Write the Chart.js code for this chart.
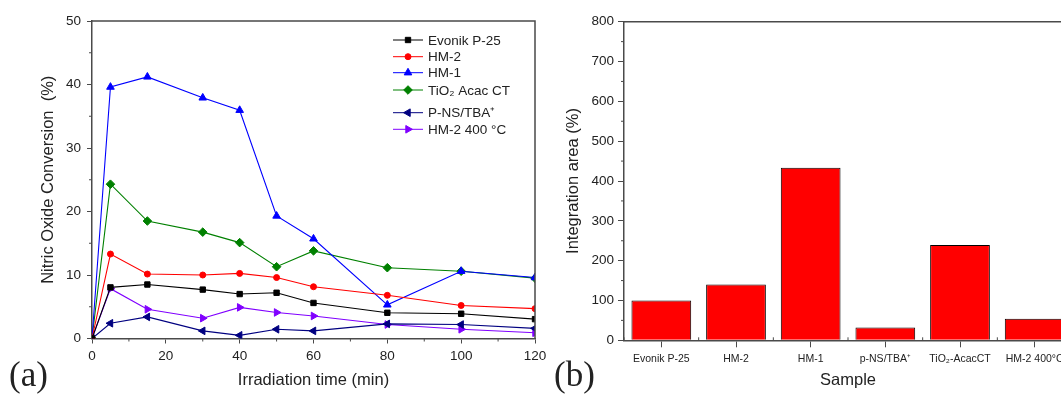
<!DOCTYPE html>
<html lang="en">
<head>
  <meta charset="UTF-8">
  <title>Nitric oxide conversion and integration area</title>
  <script src="https://cdn.jsdelivr.net/npm/chart.js"></script>
  <style>
    html, body {
      margin: 0;
      padding: 0;
      background: #fff;
      width: 1061px;
      height: 394px;
      overflow: hidden;
      position: relative;
    }
    .panel {
      position: absolute;
      top: 0;
      height: 394px;
    }
    #left { left: 0; width: 560px; }
    #right { left: 540px; width: 545px; }
    .tag {
      position: absolute;
      font-family: "Liberation Serif", "Times New Roman", serif;
      font-size: 35px;
      line-height: 1;
      color: #222;
    }
  </style>
</head>
<body>

  <div class="panel" id="left"><canvas id="noChart"></canvas></div>
  <div class="panel" id="right"><canvas id="areaChart"></canvas></div>
  <div class="tag" style="left:9px; top:357px;">(a)</div>
  <div class="tag" style="left:554px; top:357px;">(b)</div>

  <script>
    // NO conversion vs irradiation time
    const times = [0, 5, 15, 30, 40, 50, 60, 80, 100, 120];
    const evonikP25 = [0, 8.05, 8.5, 7.7, 7.0, 7.2, 5.6, 4.05, 3.9, 3.05];
    const hm2 = [0, 13.3, 10.15, 10.0, 10.25, 9.6, 8.15, 6.8, 5.2, 4.7];
    const hm1 = [0, 39.6, 41.2, 37.9, 35.95, 19.3, 15.7, 5.3, 10.6, 9.6];
    const tio2AcacCT = [0, 24.3, 18.5, 16.75, 15.1, 11.3, 13.8, 11.15, 10.6, 9.5];
    const pnsTba = [0, 2.4, 3.4, 1.2, 0.5, 1.45, 1.2, 2.3, 2.2, 1.6];
    const hm2At400C = [0, 7.85, 4.6, 3.2, 4.9, 4.1, 3.55, 2.2, 1.45, 0.9];
    const seriesNames = ['Evonik P-25', 'HM-2', 'HM-1', 'TiO\u2082 Acac CT', 'P-NS/TBA\u207A', 'HM-2 400 \u00B0C'];

    // integration area per sample
    const samples = ['Evonik P-25', 'HM-2', 'HM-1', 'p-NS/TBA\u207A', 'TiO\u2082-AcacCT', 'HM-2 400\u00B0C'];
    const integrationArea = [100, 140, 433, 32, 239, 54];

    const FONT = '"Liberation Sans", Arial, sans-serif';
    const TEXT = '#222';
    const AXIS = '#4a4a4a';

    // box around the plot area (top and right edges)
    const framePlugin = {
      id: 'frame',
      afterDraw(chart) {
        const a = chart.chartArea;
        const ctx = chart.ctx;
        ctx.save();
        ctx.strokeStyle = AXIS;
        ctx.lineWidth = 1.5;
        ctx.beginPath();
        ctx.moveTo(a.left, a.top);
        ctx.lineTo(a.right, a.top);
        ctx.lineTo(a.right, a.bottom);
        ctx.stroke();
        ctx.restore();
      }
    };

    // short ticks between the labelled ones
    const minorTicksPlugin = {
      id: 'minorTicks',
      afterDraw(chart, args, opts) {
        const ctx = chart.ctx;
        const a = chart.chartArea;
        ctx.save();
        ctx.strokeStyle = AXIS;
        ctx.lineWidth = 1;
        ctx.beginPath();
        Object.keys(opts.scales || {}).forEach(id => {
          const s = chart.scales[id];
          const o = opts.scales[id];
          const pixels = [];
          if (s.type === 'category') {
            for (let i = 0; i <= s.ticks.length; i++) pixels.push(s.getPixelForValue(i - 0.5));
          } else {
            for (let v = s.min + o.step; v < s.max; v += 2 * o.step) pixels.push(s.getPixelForValue(v));
          }
          pixels.forEach(p => {
            if (s.isHorizontal()) {
              ctx.moveTo(p, a.bottom);
              ctx.lineTo(p, a.bottom + o.len);
            } else {
              ctx.moveTo(a.left, p);
              ctx.lineTo(a.left - o.len, p);
            }
          });
        });
        ctx.stroke();
        ctx.restore();
      }
    };

    // legend drawn inside the plot: line + marker + name
    const seriesKeyPlugin = {
      id: 'seriesKey',
      afterDraw(chart, args, opts) {
        const ctx = chart.ctx;
        ctx.save();
        ctx.font = opts.font;
        ctx.textBaseline = 'middle';
        chart.data.datasets.forEach((ds, i) => {
          const y = opts.rows[i];
          ctx.strokeStyle = ds.borderColor;
          ctx.lineWidth = 1;
          ctx.beginPath();
          ctx.moveTo(opts.x, y);
          ctx.lineTo(opts.x + opts.lineLength, y);
          ctx.stroke();
          ctx.fillStyle = ds.pointBackgroundColor;
          ctx.strokeStyle = ds.pointBackgroundColor;
          Chart.helpers.drawPoint(ctx, {
            pointStyle: ds.pointStyle,
            rotation: ds.pointRotation || 0,
            radius: ds.pointRadius,
            borderWidth: 1
          }, opts.x + opts.lineLength / 2, y);
          ctx.fillStyle = TEXT;
          ctx.fillText(ds.label, opts.x + opts.lineLength + 5, y + 1);
        });
        ctx.restore();
      }
    };

    function series(label, values, color, style, radius, rotation) {
      return {
        label: label,
        data: values.map((v, i) => ({ x: times[i], y: v })),
        borderColor: color,
        backgroundColor: color,
        pointBackgroundColor: color,
        pointBorderColor: color,
        borderWidth: 1.1,
        pointStyle: style,
        pointRadius: radius,
        pointRotation: rotation || 0,
        pointBorderWidth: 1,
        tension: 0,
        clip: 0
      };
    }

    new Chart(document.getElementById('noChart'), {
      type: 'line',
      data: {
        datasets: [
          series(seriesNames[0], evonikP25, '#000000', 'rect', 3.8),
          series(seriesNames[1], hm2, '#ff0000', 'circle', 3),
          series(seriesNames[2], hm1, '#0000ff', 'triangle', 4.4),
          series(seriesNames[3], tio2AcacCT, '#008000', 'rectRot', 4.3),
          series(seriesNames[4], pnsTba, '#000080', 'triangle', 4.4, -90),
          series(seriesNames[5], hm2At400C, '#8000ff', 'triangle', 4.4, 90)
        ]
      },
      options: {
        responsive: true,
        maintainAspectRatio: false,
        animation: false,
        events: [],
        layout: { padding: { left: 35, top: 21, right: 25, bottom: 0 } },
        plugins: {
          legend: { display: false },
          tooltip: { enabled: false },
          minorTicks: { scales: { x: { step: 10, len: 3 }, y: { step: 5, len: 3 } } },
          seriesKey: {
            x: 393,
            lineLength: 30,
            rows: [40, 56.7, 72.7, 90, 112.7, 129.3],
            font: '13.5px ' + FONT
          }
        },
        scales: {
          x: {
            type: 'linear',
            min: 0,
            max: 120,
            afterFit: s => { s.height = 55.5; },
            border: { color: AXIS, width: 1.5 },
            grid: { drawOnChartArea: false, tickLength: 5, tickColor: AXIS },
            ticks: { stepSize: 20, padding: 5, color: TEXT, font: { family: FONT, size: 13.5 } },
            title: { display: true, text: 'Irradiation time (min)', color: TEXT, font: { family: FONT, size: 16.5 } }
          },
          y: {
            min: 0,
            max: 50,
            afterFit: s => { s.width = 57; },
            border: { color: AXIS, width: 1.5 },
            grid: { drawOnChartArea: false, tickLength: 5, tickColor: AXIS },
            ticks: { stepSize: 10, padding: 6, color: TEXT, font: { family: FONT, size: 13.5 } },
            title: { display: true, text: 'Nitric Oxide Conversion  (%)', color: TEXT, font: { family: FONT, size: 16.5 } }
          }
        }
      },
      plugins: [framePlugin, minorTicksPlugin, seriesKeyPlugin]
    });

    new Chart(document.getElementById('areaChart'), {
      type: 'bar',
      data: {
        labels: samples,
        datasets: [{
          data: integrationArea,
          backgroundColor: '#ff0000',
          borderColor: '#000000',
          borderWidth: 1,
          barPercentage: 0.8,
          categoryPercentage: 1
        }]
      },
      options: {
        responsive: true,
        maintainAspectRatio: false,
        animation: false,
        events: [],
        layout: { padding: { left: 19.4, top: 21.7, right: 13, bottom: 0 } },
        plugins: {
          legend: { display: false },
          tooltip: { enabled: false },
          minorTicks: { scales: { x: { len: -3 }, y: { step: 50, len: 3 } } }
        },
        scales: {
          x: {
            afterFit: s => { s.height = 53.7; },
            border: { color: AXIS, width: 1.5 },
            grid: { drawOnChartArea: false, offset: false, tickLength: 7, tickColor: AXIS },
            ticks: { padding: 6, color: TEXT, maxRotation: 0, autoSkip: false, font: { family: FONT, size: 10.5 } },
            title: { display: true, text: 'Sample', color: TEXT, font: { family: FONT, size: 16.5 } }
          },
          y: {
            min: 0,
            max: 800,
            afterFit: s => { s.width = 64.6; },
            border: { color: AXIS, width: 1.5 },
            grid: { drawOnChartArea: false, tickLength: 6, tickColor: AXIS },
            ticks: { stepSize: 100, padding: 4, color: TEXT, font: { family: FONT, size: 13.5 } },
            title: { display: true, text: 'Integration area (%)', color: TEXT, font: { family: FONT, size: 16.5 } }
          }
        }
      },
      plugins: [framePlugin, minorTicksPlugin]
    });
  </script>
</body>
</html>
